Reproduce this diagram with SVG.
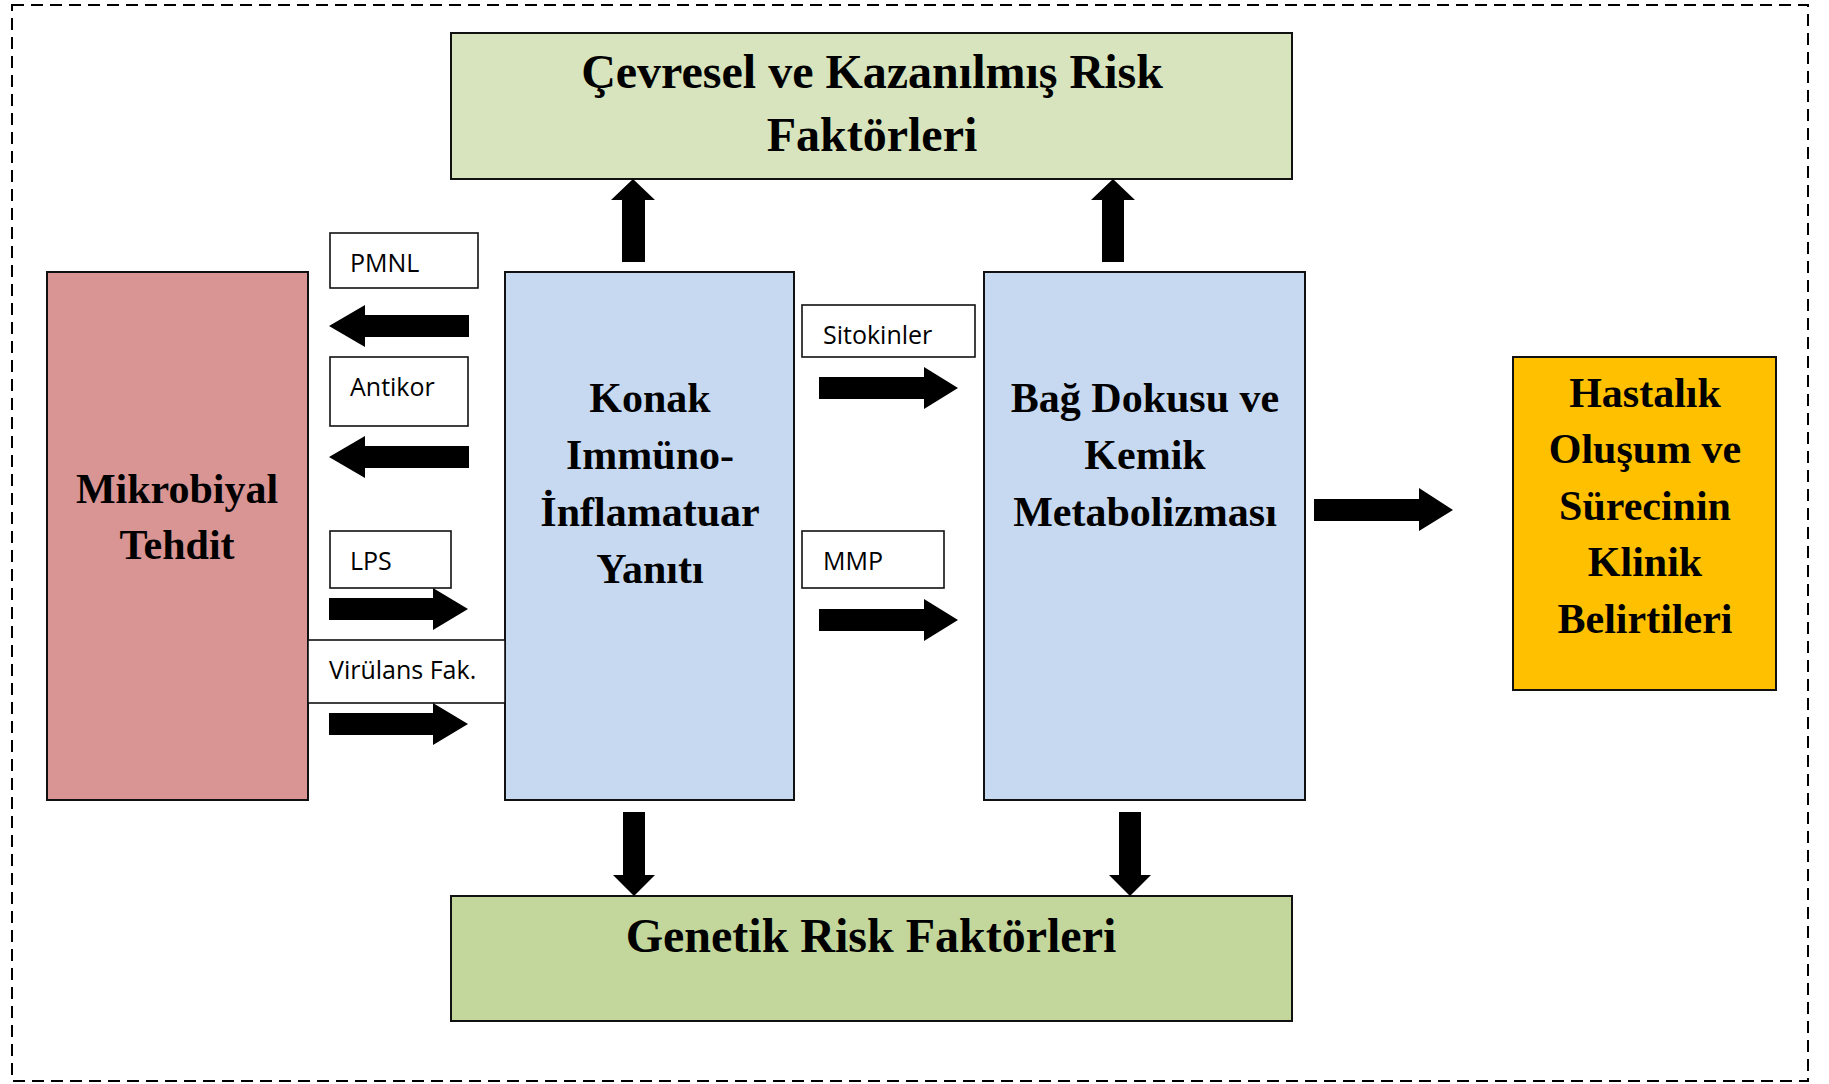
<svg xmlns="http://www.w3.org/2000/svg" width="1829" height="1084" viewBox="0 0 1829 1084">
  <style>
    .frame { fill: none; stroke: #000; stroke-width: 2; stroke-dasharray: 12 7; }
    .box { stroke: #111; stroke-width: 2; }
    .tag { fill: #fff; stroke: #111; stroke-width: 1.6; }
    .big { font-family: "Liberation Serif", "Times New Roman", serif; font-weight: bold; fill: #000; text-anchor: middle; }
    .f48 { font-size: 48px; }
    .f42 { font-size: 42px; }
    .lbl { font-family: "Open Sans", "Noto Sans", sans-serif; font-size: 25px; fill: #000; }
    .arrow { fill: #000; }
  </style>

  <rect class="frame" x="12" y="5" width="1796" height="1076"/>

  <g id="cevresel">
    <rect class="box" x="451" y="33" width="841" height="146" fill="#D7E4BD"/>
    <text class="big f48" x="872" y="88">Çevresel ve Kazanılmış Risk</text>
    <text class="big f48" x="872" y="151">Faktörleri</text>
  </g>

  <g id="mikrobiyal">
    <rect class="box" x="47" y="272" width="261" height="528" fill="#D99594"/>
    <text class="big f42" x="177" y="503">Mikrobiyal</text>
    <text class="big f42" x="177" y="559">Tehdit</text>
  </g>

  <g id="konak">
    <rect class="box" x="505" y="272" width="289" height="528" fill="#C6D9F1"/>
    <text class="big f42" x="650" y="412">Konak</text>
    <text class="big f42" x="650" y="469">Immüno-</text>
    <text class="big f42" x="650" y="526">İnflamatuar</text>
    <text class="big f42" x="650" y="583">Yanıtı</text>
  </g>

  <g id="bag-dokusu">
    <rect class="box" x="984" y="272" width="321" height="528" fill="#C6D9F1"/>
    <text class="big f42" x="1145" y="412">Bağ Dokusu ve</text>
    <text class="big f42" x="1145" y="469">Kemik</text>
    <text class="big f42" x="1145" y="526">Metabolizması</text>
  </g>

  <g id="hastalik">
    <rect class="box" x="1513" y="357" width="263" height="333" fill="#FFC000"/>
    <text class="big f42" x="1645" y="407">Hastalık</text>
    <text class="big f42" x="1645" y="463">Oluşum ve</text>
    <text class="big f42" x="1645" y="520">Sürecinin</text>
    <text class="big f42" x="1645" y="576">Klinik</text>
    <text class="big f42" x="1645" y="633">Belirtileri</text>
  </g>

  <g id="genetik">
    <rect class="box" x="451" y="896" width="841" height="125" fill="#C3D69B"/>
    <text class="big f48" x="871" y="952">Genetik Risk Faktörleri</text>
  </g>

  <g id="label-pmnl">
    <rect class="tag" x="330" y="233" width="148" height="55"/>
    <text class="lbl" x="350" y="272">PMNL</text>
  </g>
  <g id="label-antikor">
    <rect class="tag" x="330" y="357" width="138" height="69"/>
    <text class="lbl" x="350" y="396">Antikor</text>
  </g>
  <g id="label-lps">
    <rect class="tag" x="330" y="531" width="121" height="57"/>
    <text class="lbl" x="350" y="570">LPS</text>
  </g>
  <g id="label-virulans">
    <rect class="tag" x="308" y="640" width="197" height="63"/>
    <text class="lbl" x="329" y="679">Virülans Fak.</text>
  </g>
  <g id="label-sitokinler">
    <rect class="tag" x="802" y="305" width="173" height="52"/>
    <text class="lbl" x="823" y="344">Sitokinler</text>
  </g>
  <g id="label-mmp">
    <rect class="tag" x="802" y="531" width="142" height="57"/>
    <text class="lbl" x="823" y="570">MMP</text>
  </g>

  <g id="connectors">
    <!-- immune response back to the microbial side -->
    <polygon class="arrow" points="469,315 365,315 365,305 329,326 365,347 365,337 469,337"/>
    <polygon class="arrow" points="469,446 365,446 365,436 329,457 365,478 365,468 469,468"/>
    <!-- microbial products into the host -->
    <polygon class="arrow" points="329,598 433,598 433,588 468,609 433,630 433,620 329,620"/>
    <polygon class="arrow" points="329,713 433,713 433,703 468,724 433,745 433,735 329,735"/>
    <!-- host response to tissue -->
    <polygon class="arrow" points="819,377 924,377 924,367 958,388 924,409 924,399 819,399"/>
    <polygon class="arrow" points="819,609 924,609 924,599 958,620 924,641 924,631 819,631"/>
    <!-- tissue to clinical outcome -->
    <polygon class="arrow" points="1314,499 1419,499 1419,488 1453,510 1419,531 1419,521 1314,521"/>
    <!-- up to acquired risk factors -->
    <polygon class="arrow" points="622,262 622,200 611,200 633,179 655,200 645,200 645,262"/>
    <polygon class="arrow" points="1102,262 1102,200 1091,200 1113,179 1135,200 1124,200 1124,262"/>
    <!-- down to genetic risk factors -->
    <polygon class="arrow" points="623,812 645,812 645,875 655,875 634,896 613,875 623,875"/>
    <polygon class="arrow" points="1119,812 1141,812 1141,875 1151,875 1130,896 1109,875 1119,875"/>
  </g>
</svg>
